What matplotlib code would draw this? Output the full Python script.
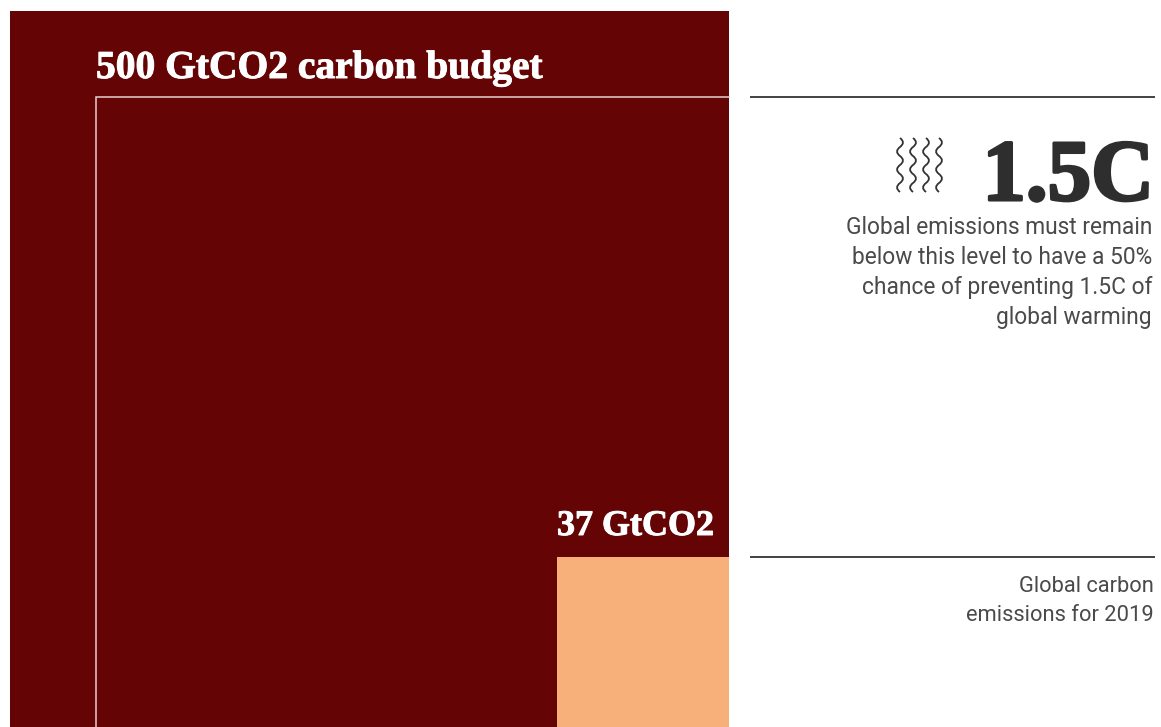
import numpy as np
import matplotlib
matplotlib.use("Agg")
import matplotlib.pyplot as plt
from matplotlib.patches import Rectangle, PathPatch
from matplotlib.path import Path
import matplotlib.patheffects as pe

# Areas of the nested squares, in GtCO2
square_names = ["remaining", "budget", "emissions"]
square_values = [645, 500, 37]
square_colors = ["#640404", "#640404", "#f7b07a"]

headline = "500 GtCO2 carbon budget"
emissions_label = "37 GtCO2"
big_label = "1.5C"
note_top = ["Global emissions must remain", "below this level to have a 50%",
            "chance of preventing 1.5C of", "global warming"]
note_bottom = ["Global carbon", "emissions for 2019"]
wave_offsets = [0, 1, 0, -1, 0, 1, 0, -1, 0, 1, 0, -1, 0]

W, H = 1161, 727
fig = plt.figure(figsize=(W / 100, H / 100), dpi=100)
ax = fig.add_axes([0, 0, 1, 1])
ax.set_xlim(0, W)
ax.set_ylim(H, 0)
ax.axis("off")

SERIF = "Liberation Serif"
SANS = "Roboto"
INK = "#2e2e2e"
px = 0.72

# squares share the bottom-right corner, side proportional to sqrt(area)
right, bottom = 729, 729.5
k = 633 / np.sqrt(500)
for name, v, c in zip(square_names, square_values, square_colors):
    side = np.sqrt(v) * k
    ax.add_patch(Rectangle((right - side, bottom - side), side, side, facecolor=c,
                           edgecolor="none", linewidth=0))
    if name == "budget":
        # only the top and left sides of this square are outlined
        ax.plot([right, right - side, right - side],
                [bottom - side, bottom - side, bottom],
                color="#e6d2d2", lw=1.1, solid_joinstyle="miter")

white_stroke = [pe.withStroke(linewidth=0.7, foreground="white")]
ax.text(96, 78, headline, family=SERIF, weight="bold", color="white",
        fontsize=39.5 * px, ha="left", va="baseline", path_effects=white_stroke)
ax.text(714, 535, emissions_label, family=SERIF, weight="bold", color="white",
        fontsize=36 * px, ha="right", va="baseline", path_effects=white_stroke)

for y in (96.5, 557):
    ax.plot([750, 1155], [y, y], color="#222222", lw=1.2, solid_capstyle="butt")

ax.text(1154, 200, big_label, family=SERIF, weight="bold", color=INK, fontsize=87 * px,
        ha="right", va="baseline",
        path_effects=[pe.withStroke(linewidth=2.2, foreground=INK)])

for i, line in enumerate(note_top):
    ax.text(1152, 234 + i * 30, line, family=SANS, weight="regular", color="#4a4a4a",
            fontsize=22.7 * px, ha="right", va="baseline")
for i, line in enumerate(note_bottom):
    ax.text(1154, 592 + i * 29, line, family=SANS, weight="regular", color="#4a4a4a",
            fontsize=21.9 * px, ha="right", va="baseline")

# heat-wave icon
for x0 in (900, 913, 926, 939):
    step = 54 / (len(wave_offsets) - 1)
    verts = [(x0, 138)]
    codes = [Path.MOVETO]
    for j in range(1, len(wave_offsets), 2):
        verts += [(x0 + wave_offsets[j] * 6, 138 + j * step),
                  (x0 + wave_offsets[j + 1] * 6, 138 + (j + 1) * step)]
        codes += [Path.CURVE3, Path.CURVE3]
    ax.add_patch(PathPatch(Path(verts, codes), fill=False, edgecolor="#333333", lw=1.3))

fig.savefig("out.png", dpi=100, facecolor="white")
